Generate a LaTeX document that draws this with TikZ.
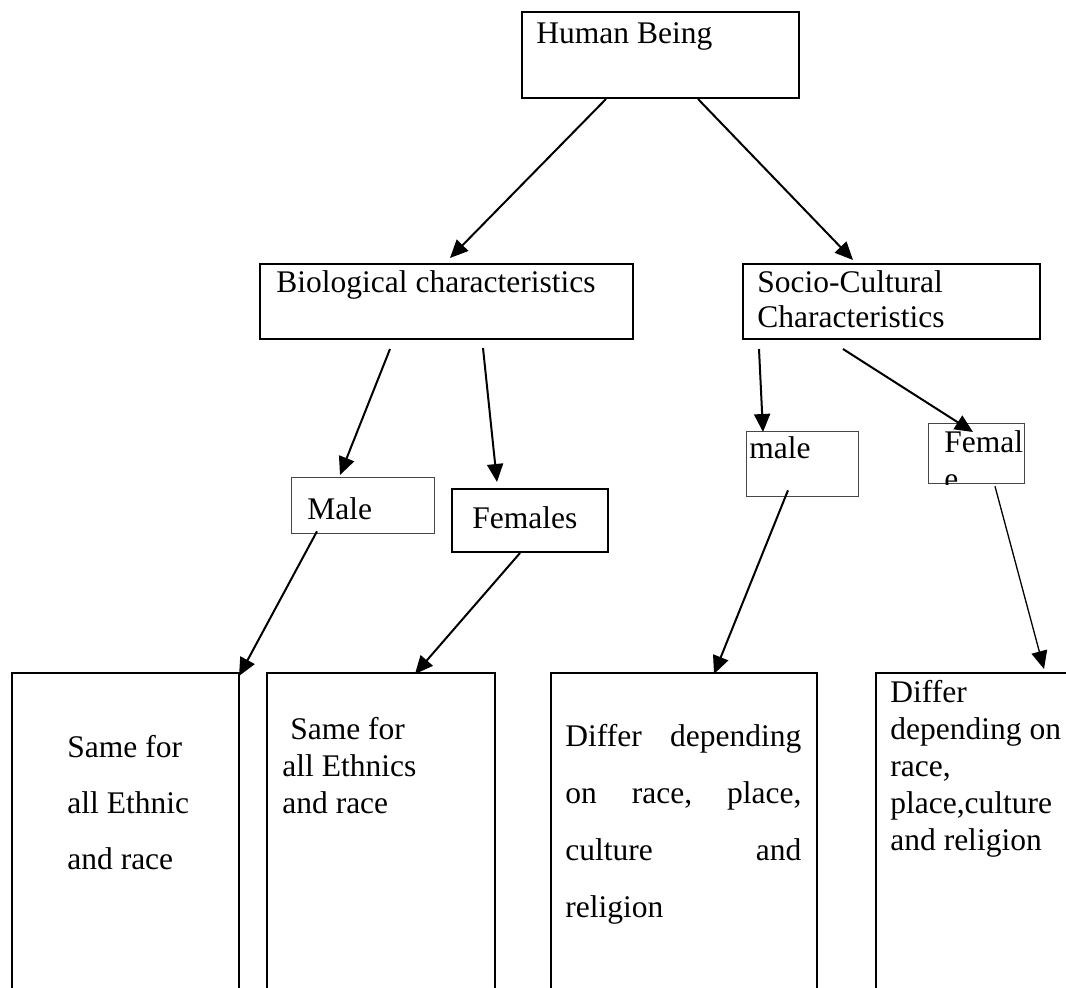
\documentclass[tikz,border=0pt]{standalone}
\usepackage{fontspec}
\setmainfont{Liberation Serif}
\usetikzlibrary{arrows.meta}

\begin{document}
\begin{tikzpicture}[x=0.5pt,y=-0.5pt,>={Triangle[length=9pt,width=8pt]},
  box/.style={draw,line width=1pt,inner sep=0pt,anchor=north west},
  thinbox/.style={box,draw=black!72,line width=0.65pt},
  txt/.style={inner sep=0pt,anchor=base west,align=left,font=\fontsize{15.75}{18.5}\selectfont},
  arr/.style={->,line width=1pt}]
\clip (0,0) rectangle (1066,987);
\node[box,minimum width=138.5pt,minimum height=43pt] (human) at (521,11) {};
\node[box,minimum width=186.5pt,minimum height=37.5pt] (bio) at (259,263) {};
\node[box,minimum width=148.5pt,minimum height=37.5pt] (socio) at (742,263) {};
\node[thinbox,minimum width=71.5pt,minimum height=28pt] (male) at (291,477) {};
\node[box,minimum width=78pt,minimum height=31.5pt] (female) at (451,488) {};
\node[thinbox,minimum width=56pt,minimum height=32.5pt] (smale) at (746,431) {};
\node[thinbox,minimum width=48pt,minimum height=30pt] (sfemale) at (928,423) {};
\node[box,minimum width=113.5pt,minimum height=165pt] (same1) at (11,672) {};
\node[box,minimum width=114pt,minimum height=165pt] (same2) at (266,672) {};
\node[box,minimum width=133pt,minimum height=165pt] (differ1) at (550,672) {};
\node[box,minimum width=100pt,minimum height=165pt] (differ2) at (875,672) {};
\node[txt] (human-t) at ([shift={(15,32)}]human.north west) {Human Being};
\node[txt] (bio-t) at ([shift={(17,29)}]bio.north west) {Biological characteristics};
\node[txt,font=\fontsize{15.75}{17.5}\selectfont] (socio-t) at ([shift={(15,64)}]socio.north west) {Socio-Cultural\\Characteristics};
\node[txt] (male-t) at ([shift={(16,42)}]male.north west) {Male};
\node[txt] (female-t) at ([shift={(21,40)}]female.north west) {Females};
\node[txt] (smale-t) at ([shift={(3,27)}]smale.north west) {male};
\begin{scope}
\clip (sfemale.south west) rectangle (sfemale.north east);
\node[txt] (sfemale-t) at ([shift={(16,66)}]sfemale.north west) {Femal\\e};
\end{scope}
\node[txt,font=\fontsize{15.75}{28}\selectfont] (same1-t) at ([shift={(56,197)}]same1.north west) {Same for\\all Ethnic\\and race};
\node[txt] (same2-t) at ([shift={(16,141)}]same2.north west) {\ Same for\\all Ethnics\\and race};
\node[txt,text width=118pt,font=\fontsize{15.75}{28.5}\selectfont] (differ1-t) at ([shift={(15,74)}]differ1.north west) {Differ\hfill depending\\on\hfill race,\hfill place,\\culture\hfill and\\religion};
\node[txt] (differ2-t) at ([shift={(15,178)}]differ2.north west) {Differ\\depending on\\race,\\place,culture\\and religion};
\draw[arr] ([shift={(85,0)}]human.south west) -- ([shift={(191,-5)}]bio.north west);
\draw[arr] ([shift={(177,0)}]human.south west) -- ([shift={(111,-3)}]socio.north west);
\draw[arr] ([shift={(131,9)}]bio.south west) -- ([shift={(49,-2)}]male.north west);
\draw[arr] ([shift={(224,8)}]bio.south west) -- ([shift={(46,-6)}]female.north west);
\draw[arr] ([shift={(17,9)}]socio.south west) -- ([shift={(17,1)}]smale.north west);
\draw[arr] ([shift={(101,9)}]socio.south west) -- ([shift={(45,9)}]sfemale.north west);
\draw[arr] ([shift={(26,-3)}]male.south west) -- ([shift={(228,4)}]same1.north west);
\draw[arr] ([shift={(69,0)}]female.south west) -- ([shift={(149,2)}]same2.north west);
\draw[arr] ([shift={(42,-7)}]smale.south west) -- ([shift={(164,2)}]differ1.north west);
\draw[arr,line width=0.65pt] ([shift={(67,2)}]sfemale.south west) -- ([shift={(169,-3)}]differ2.north west);
\end{tikzpicture}
\end{document}
